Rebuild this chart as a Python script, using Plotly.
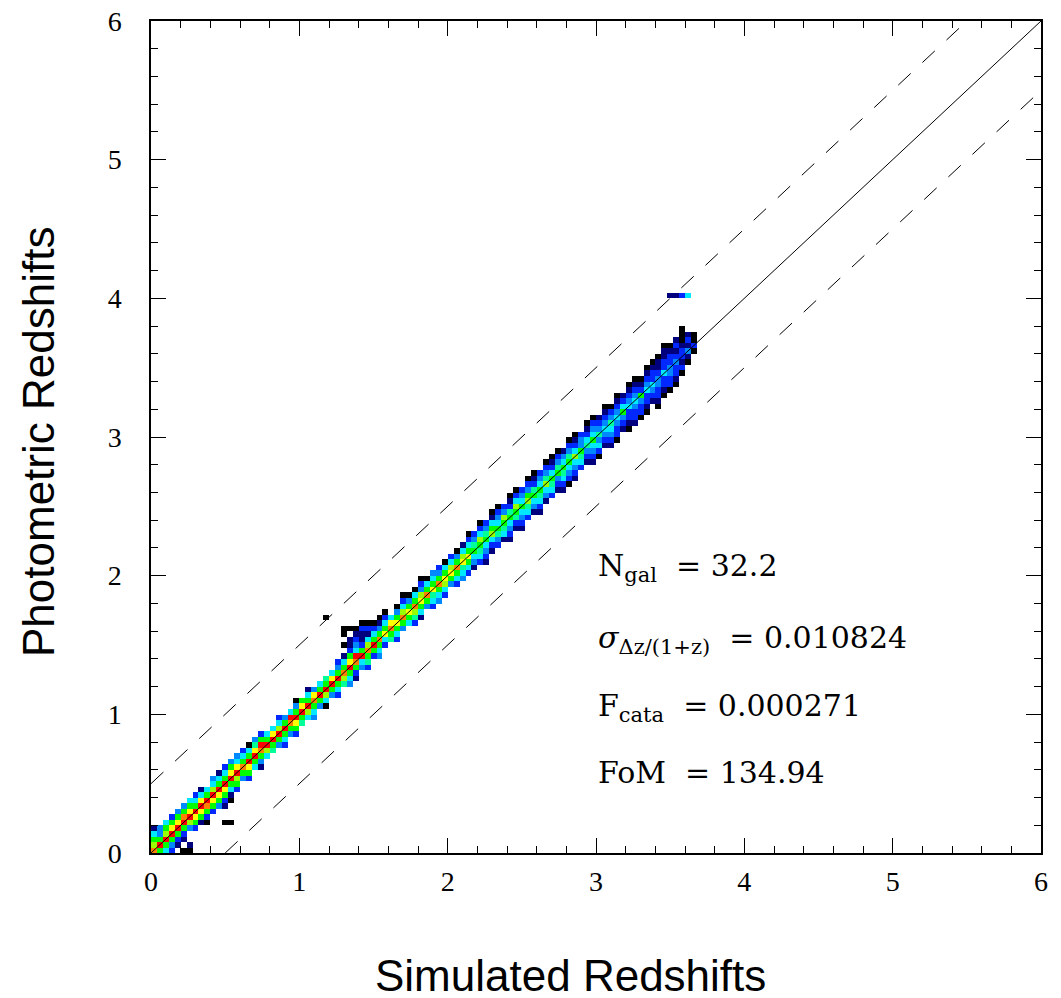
import plotly.graph_objects as go

# 2D histogram of photo-z vs simulated z, bins of 0.04 in both axes.
# Each column string: cells below the diagonal bin, '|', diagonal bin and cells above.
# Letters are colour levels (k=lowest ... r=highest), '.' = empty bin.
bin_size = 0.04
column_cells = [
    "|ohgcn", "g|rgaa", "cg|rhgc", "bag|rygb", "nbg|ryga",
    "k.nbg|roga", "kn..ah|rygc", "bgy|rgcb", "ngy|rycn", "kbgo|rgc",
    "bgy|rhca", "agy|rgcn", "k..nbgy|rgcb", "k...kncg|ryga", "bgh|ryca",
    "ag|ogcb", "bgy|rgck", "cg|rysa", "nag|orgb", "ch|rgc",
    "sg|ryc", "ag|rhcb", "bcg|rga", "ag|orc", "bgy|rgak",
    "sg|ryg", "ch|rgcn", "acg|oya", "ag|rgc", "kch|rgs",
    "ag|ryc", "bcg|rgab", "sh|ogcn.k.kk", "acg|rygbnn.k", "nbg|orcabnk",
    "ac|rgbnnbk", "bsg|ohcnbk", "bg|rgcbk", "acg|ogank", "bc|ygcbk",
    "sg|oyc", "bcg|ygak", "ag|ohcbk", "cg|ygak", "bsh|ogck",
    "ncg|yhabk", "ag|ogck", "bcs|ygca", "acg|ogab", "bch|ygck",
    "ag|yhcb", "bcg|ogak", "acs|yhcn", "bcg|ygcbk", "nac|gsab",
    "bcs|ghcbk", "nbac|gsab", "nbc|hgcnk", "bas|gcabk", "ncs|ghab",
    "nbac|gsbnk", "nbs|ghcbk", "nbac|gcab", "bcs|hgabk", "nac|gsbnk",
    "nbcs|gcab", "nac|hsabk", "bcs|gcbnk", "nba|gsabk", "nbcs|gcan",
    "kbac|gsabk", "nbac|hcbnk", "bcs|gaab", "nba|scbnk", "nbac|gcabk",
    "kbca|sabn", "nba|cabnk", "nbac|sabk", "kbba|cabnk", "nba|gcbn",
    "knbb|cabnk", "nbba|cabnk", "kbba|gbnk", "knbb|cabnk", "nba|cbbnk",
    "knbba|abnnk", "knbb|cbbnnk", "kbba|abbnk", "knbb|abnbn", "kbn|bbnk",
    "kn|anbn", "k|bnk",
]
# isolated bins away from the main band: (column, row, level)
extra_col = [29, 87, 88, 89, 90, 89, 89, 91]
extra_row = [42, 100, 100, 100, 100, 93, 94, 92]
extra_lvl = ["k", "n", "n", "b", "c", "k", "k", "k"]

level_keys = ["k", "n", "b", "a", "c", "s", "g", "h", "y", "o", "r"]
level_colors = ["#000000", "#00007f", "#0028ff", "#0088ff", "#00e8ff", "#00ff99",
                "#00ff00", "#99ff00", "#ffff00", "#ff8000", "#ff0000"]

sp = "\u00a0"
stats_text = [
    f"N<sub>gal</sub>{sp}{sp}={sp}32.2",
    f"<i>\u03c3</i><sub>\u0394z/(1+z)</sub>{sp}{sp}={sp}0.010824",
    f"F<sub>cata</sub>{sp}{sp}={sp}0.000271",
    f"FoM{sp}{sp}={sp}134.94",
]
stats_y = [2.058, 1.542, 1.05, 0.584]

n_cols = len(column_cells)
n_rows = 102
z = [[None] * n_cols for _ in range(n_rows)]
for i, col in enumerate(column_cells):
    below, above = col.split("|")
    start = i - len(below)
    for k, ch in enumerate(below + above):
        if ch != ".":
            z[start + k][i] = level_keys.index(ch) + 1
for ci, rj, lv in zip(extra_col, extra_row, extra_lvl):
    z[rj][ci] = level_keys.index(lv) + 1

n_lv = len(level_colors)
colorscale = []
for k, c in enumerate(level_colors):
    colorscale.append([k / n_lv, c])
    colorscale.append([(k + 1) / n_lv, c])

fig = go.Figure()
fig.add_trace(go.Heatmap(
    z=z, x0=bin_size / 2, dx=bin_size, y0=bin_size / 2, dy=bin_size,
    colorscale=colorscale, zmin=0.5, zmax=n_lv + 0.5, showscale=False,
    hoverongaps=False,
))
fig.add_trace(go.Scatter(x=[0, 6], y=[0, 6], mode="lines",
                         line=dict(color="black", width=1), showlegend=False))
fig.add_trace(go.Scatter(x=[0, 5.5], y=[0.5, 6], mode="lines",
                         line=dict(color="black", width=1, dash="17px,16px"), showlegend=False))
fig.add_trace(go.Scatter(x=[0.5, 6], y=[0, 5.5], mode="lines",
                         line=dict(color="black", width=1, dash="17px,16px"), showlegend=False))

for txt, yv in zip(stats_text, stats_y):
    fig.add_annotation(x=3.0, y=yv, text=txt, showarrow=False, xanchor="left", yanchor="middle",
                       font=dict(family="DejaVu Serif", size=30, color="black"))

axis_common = dict(
    range=[0, 6], showgrid=False, zeroline=False, showline=True, linecolor="black",
    linewidth=1.5, mirror="ticks", ticks="inside", ticklen=15, tickwidth=1, tickcolor="black",
    tickvals=[0, 1, 2, 3, 4, 5, 6],
    minor=dict(ticks="inside", ticklen=7, tickwidth=1, tickcolor="black", dtick=0.2, tick0=0),
    tickfont=dict(family="Liberation Serif", size=28, color="black"),
)
fig.update_xaxes(**axis_common, ticklabelstandoff=3)
fig.update_yaxes(**axis_common, ticklabelstandoff=22)

fig.add_annotation(xref="paper", yref="paper", x=0.5 * (372 + 768 - 2 * 151) / 890, y=-122 / 832,
                   text="Simulated Redshifts", showarrow=False, xanchor="center", yanchor="middle",
                   font=dict(family="Liberation Sans", size=44, color="black"))
fig.add_annotation(xref="paper", yref="paper", x=-113 / 890, y=(853 - 442) / 832,
                   text="Photometric Redshifts", showarrow=False, textangle=-90,
                   xanchor="center", yanchor="middle",
                   font=dict(family="Liberation Sans", size=44, color="black"))

fig.update_layout(
    width=1061, height=998, margin=dict(l=151, r=20, t=21, b=145, autoexpand=False),
    plot_bgcolor="white", paper_bgcolor="white", showlegend=False,
)
fig.write_html("out.html", config={"displayModeBar": False},
               post_script="document.body.style.margin='0';")
